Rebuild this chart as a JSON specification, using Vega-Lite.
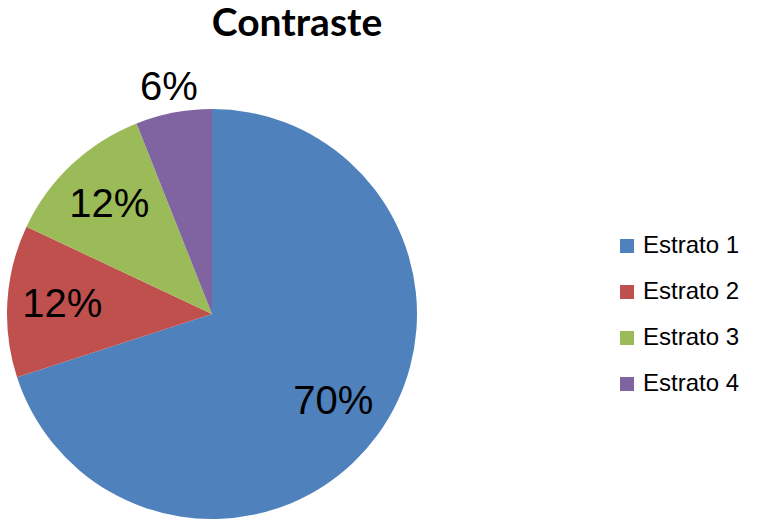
{
  "$schema": "https://vega.github.io/schema/vega-lite/v6.json",
  "autosize": "none",
  "width": 424,
  "height": 414,
  "padding": {"top": 107, "left": 0, "right": 335, "bottom": 0},
  "background": "white",
  "title": {
    "text": "Contraste",
    "font": "Lato",
    "fontWeight": "bold",
    "fontSize": 39,
    "color": "black",
    "anchor": "middle",
    "dx": 85,
    "offset": 24
  },
  "data": {
    "values": [
      {"cat": "Estrato 1", "p": 0.70},
      {"cat": "Estrato 2", "p": 0.12},
      {"cat": "Estrato 3", "p": 0.12},
      {"cat": "Estrato 4", "p": 0.06}
    ]
  },
  "encoding": {
    "theta": {"field": "p", "type": "quantitative", "stack": true},
    "order": {"field": "cat", "type": "nominal", "sort": "ascending"},
    "color": {
      "field": "cat",
      "type": "nominal",
      "scale": {"domain": ["Estrato 1", "Estrato 2", "Estrato 3", "Estrato 4"], "range": ["#4F81BD", "#C0504D", "#9BBB59", "#8064A2"]},
      "legend": {
        "orient": "none",
        "legendX": 615,
        "legendY": 127,
        "title": null,
        "symbolType": "square",
        "symbolSize": 196,
        "symbolStrokeWidth": 0,
        "labelFontSize": 24,
        "labelFont": "Liberation Sans",
        "labelColor": "black",
        "labelOffset": 4,
        "rowPadding": 22,
        "padding": 0
      }
    }
  },
  "layer": [
    {"mark": {"type": "arc", "outerRadius": 205}},
    {
      "mark": {"type": "text", "radius": 150, "fontSize": 40, "font": "Liberation Sans", "baseline": "middle"},
      "encoding": {
        "text": {"condition": {"test": "datum.cat !== 'Estrato 4'", "field": "p", "type": "quantitative", "format": ".0%"}, "value": ""},
        "detail": {"field": "cat", "type": "nominal"},
        "color": {"value": "black"}
      }
    },
    {
      "mark": {"type": "text", "radius": 230, "fontSize": 40, "font": "Liberation Sans", "baseline": "middle"},
      "encoding": {
        "text": {"condition": {"test": "datum.cat === 'Estrato 4'", "field": "p", "type": "quantitative", "format": ".0%"}, "value": ""},
        "detail": {"field": "cat", "type": "nominal"},
        "color": {"value": "black"}
      }
    }
  ]
}
